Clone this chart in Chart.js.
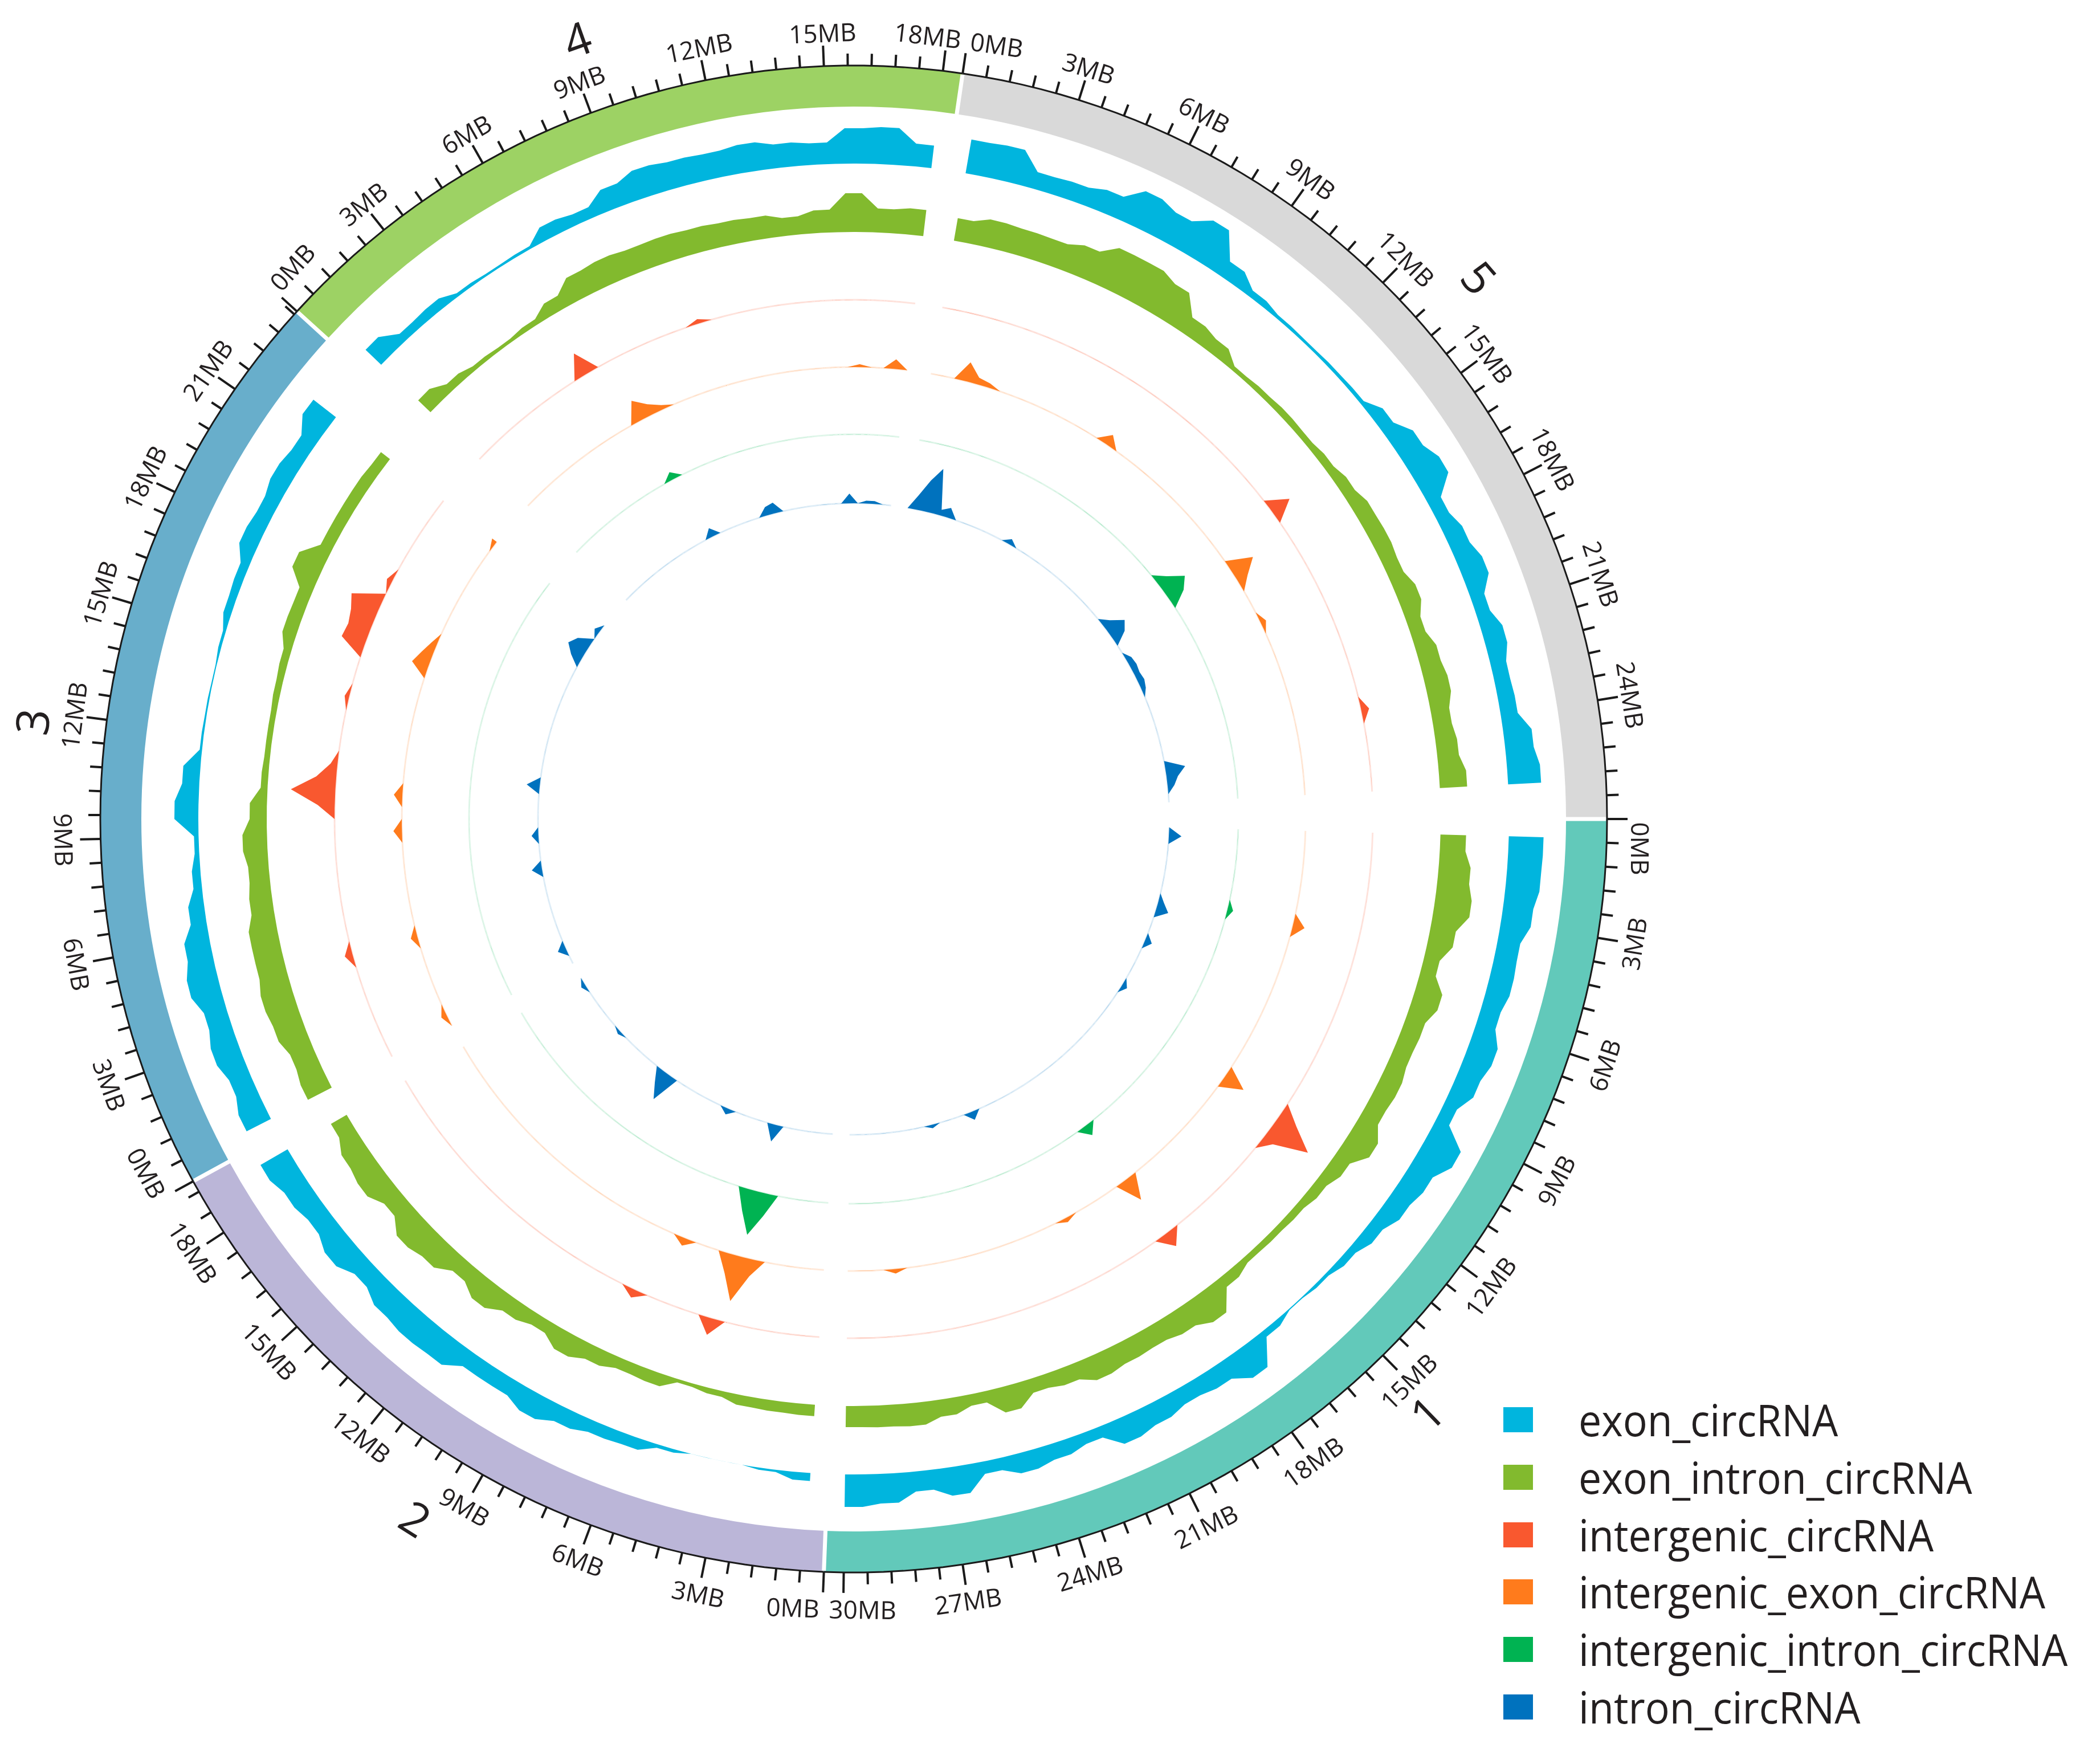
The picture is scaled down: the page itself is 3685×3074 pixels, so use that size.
<!DOCTYPE html>
<html lang="en">
<head>
<meta charset="UTF-8">
<title>circRNA distribution along chromosomes</title>
<style>
  body { margin: 0; background: #fff; font-family: 'Open Sans', sans-serif; }
  .wrap { position: relative; width: 3685px; height: 3074px; }
  #circos { position: absolute; left: 0; top: 0; }
  .legend { position: absolute; left: 2638px; top: 2441px; }
  .legend .item { position: absolute; left: 0; height: 100px; white-space: nowrap; }
  .legend .swatch { position: absolute; left: 0; top: 28px; width: 52px; height: 44px; }
  .legend .label { position: absolute; left: 132px; top: 0; line-height: 100px; font-size: 77px; color: #231f20;
                   transform: scaleX(0.93); transform-origin: left center; }
</style>
</head>
<body>
<div class="wrap">
  <canvas id="circos" width="3685" height="3074"></canvas>
  <div class="legend" id="legend"></div>
</div>
<script src="https://cdn.jsdelivr.net/npm/chart.js@4.4.1/dist/chart.umd.min.js"></script>
<script>
// chromosomes, sizes in MB
const chromNames = ['1', '2', '3', '4', '5'];
const chromSizes = [30.43, 19.70, 23.46, 18.59, 26.98];

// density per 1 MB window (one row per chromosome, window 0 = 0-1 MB)
const exonCircRNA = [
  [61, 60, 53, 40, 42, 35, 50, 42, 25, 65, 45, 38, 25, 14, 6, 2, 12, 55, 35, 30, 38, 45, 20, 28, 35, 22, 50, 35, 52, 57],
  [14, 4, 0, 0, 6, 20, 22, 30, 42, 30, 30, 50, 52, 48, 35, 50, 38, 45, 55],
  [48, 38, 48, 40, 54, 45, 28, 15, 8, 42, 30, 4, 3, 2, 5, 14, 16, 32, 28, 35, 30, 50],
  [38, 16, 18, 6, 4, 5, 25, 20, 40, 52, 48, 46, 50, 42, 38, 62, 65, 40],
  [60, 62, 30, 32, 40, 65, 55, 75, 30, 12, 6, 5, 6, 7, 25, 45, 58, 25, 35, 45, 25, 38, 28, 30, 50, 58]
];
const exonIntronCircRNA = [
  [45, 56, 64, 45, 28, 48, 35, 33, 38, 35, 52, 30, 20, 14, 12, 11, 20, 55, 42, 36, 38, 43, 30, 25, 45, 20, 30, 40, 38, 37],
  [20, 19, 18, 10, 6, 22, 20, 28, 38, 22, 30, 45, 30, 48, 55, 35, 50, 45, 32],
  [47, 42, 52, 56, 50, 50, 40, 36, 43, 30, 12, 10, 10, 12, 14, 25, 24, 50, 22, 22, 22, 20],
  [30, 15, 8, 6, 10, 25, 45, 48, 45, 46, 44, 42, 40, 32, 40, 68, 42, 46],
  [40, 49, 47, 46, 55, 75, 75, 65, 32, 25, 8, 10, 12, 11, 15, 22, 30, 31, 28, 38, 26, 37, 42, 33, 38, 48]
];

// sparse classes: [chromosome, position MB, density], zero elsewhere
const intergenicCircRNA = [
  [1, 11.5, 35], [1, 12.0, 78], [1, 12.5, 20], [1, 17.5, 28],
  [2, 4.5, 30], [2, 7.5, 15],
  [3, 4.5, 14], [3, 10.0, 30], [3, 10.5, 78], [3, 11.0, 35], [3, 11.5, 12], [3, 14.0, 8],
  [3, 16.0, 43], [3, 16.5, 40], [3, 17.0, 45], [3, 17.5, 55], [3, 18.5, 10],
  [4, 5.5, 42], [4, 10.0, 8],
  [5, 15.0, 38], [5, 23.0, 14]
];
const intergenicExonCircRNA = [
  [1, 4.5, 21], [1, 11.5, 40], [1, 17.5, 44], [1, 20.5, 8], [1, 28.0, 8],
  [2, 3.5, 30], [2, 4.0, 80], [2, 4.5, 35], [2, 6.5, 14],
  [3, 1.0, 10], [3, 4.5, 12], [3, 9.0, 15], [3, 10.5, 15], [3, 16.0, 30], [3, 16.5, 20], [3, 17.0, 10], [3, 22.0, 10],
  [4, 6.5, 38], [4, 7.0, 20], [4, 7.5, 8], [4, 16.0, 5], [4, 17.5, 17],
  [5, 2.0, 34], [5, 2.5, 12], [5, 3.0, 8], [5, 8.5, 20], [5, 16.0, 45], [5, 16.5, 20], [5, 18.5, 10]
];
const intergenicIntronCircRNA = [
  [1, 4.5, 10], [1, 17.5, 20],
  [2, 3.5, 40], [2, 4.0, 78], [2, 4.5, 40],
  [4, 6.5, 14],
  [5, 14.5, 20], [5, 15.0, 46], [5, 15.5, 30]
];
const intronCircRNA = [
  [1, 1.0, 22], [1, 5.0, 10], [1, 5.5, 22], [1, 7.5, 13], [1, 10.5, 10], [1, 22.5, 15], [1, 25.0, 6],
  [2, 4.0, 30], [2, 7.0, 11], [2, 11.0, 50], [2, 11.5, 25], [2, 15.0, 6], [2, 18.5, 8],
  [3, 1.5, 15], [3, 6.5, 18], [3, 8.5, 12], [3, 11.5, 23], [3, 19.5, 20], [3, 20.0, 35], [3, 20.5, 25], [3, 21.5, 10],
  [4, 7.0, 16], [4, 10.5, 15], [4, 11.0, 19], [4, 15.5, 17], [4, 16.5, 5], [4, 17.0, 5],
  [5, 1.0, 25], [5, 1.5, 55], [5, 2.0, 80], [5, 2.5, 10], [5, 3.0, 18], [5, 7.0, 10],
  [5, 14.5, 15], [5, 15.0, 36], [5, 15.5, 25], [5, 17.0, 10], [5, 17.5, 12], [5, 18.0, 10], [5, 18.5, 12], [5, 19.0, 8],
  [5, 24.0, 35], [5, 24.5, 20], [5, 25.0, 12]
];

// ---- layout (radial scale runs 0..1330 = pixels from centre) ----
const binMb = 0.5, windowMb = 1, tickMb = 0.6;
const ringInner = 1250, ringOuter = 1322;
const trackDepth = 80, densityMax = 80;
const chromColors = ['#62c9ba', '#bbb6d8', '#68aecb', '#9dd264', '#d9d9d9'];

const tracks = [
  { name: 'exon_circRNA', color: '#00b5de', base: 1150, windows: exonCircRNA },
  { name: 'exon_intron_circRNA', color: '#82ba2e', base: 1030, windows: exonIntronCircRNA },
  { name: 'intergenic_circRNA', color: '#f9582f', base: 911, peaks: intergenicCircRNA, axis: 'rgba(249,88,47,0.16)' },
  { name: 'intergenic_exon_circRNA', color: '#ff7b1c', base: 793, peaks: intergenicExonCircRNA, axis: 'rgba(255,123,28,0.16)' },
  { name: 'intergenic_intron_circRNA', color: '#00b352', base: 675, peaks: intergenicIntronCircRNA, axis: 'rgba(0,179,82,0.12)' },
  { name: 'intron_circRNA', color: '#0072be', base: 554, peaks: intronCircRNA, axis: 'rgba(0,114,190,0.12)' }
];

const gridBins = chromSizes.map(s => Math.round(s / binMb));
const offsets = gridBins.map((_, k) => gridBins.slice(0, k).reduce((a, b) => a + b, 0));
const nBins = gridBins.reduce((a, b) => a + b, 0);
const perWin = windowMb / binMb;
const windowsPerChrom = exonCircRNA.map(a => a.length);
const unit = trackDepth / densityMax;

const labels = [];
gridBins.forEach((n, k) => {
  for (let i = 0; i < n; i++) labels.push('chr' + chromNames[k] + ' ' + (i * binMb).toFixed(1) + 'MB');
});

function windowSeries(rows, base) {
  const out = new Array(nBins).fill(null);
  rows.forEach((vals, k) => {
    vals.forEach((v, w) => {
      for (let j = 1; j <= perWin; j++) out[offsets[k] + w * perWin + j] = base + v * unit;
    });
  });
  return out;
}

function peakSeries(peaks, base) {
  const out = new Array(nBins).fill(null);
  windowsPerChrom.forEach((n, k) => {
    for (let j = 1; j <= n * perWin; j++) out[offsets[k] + j] = base;
  });
  peaks.forEach(([chr, mb, v]) => {
    out[offsets[chr - 1] + Math.round(mb / binMb)] = base + v * unit;
  });
  return out;
}

function ringSeries(k) {
  const out = new Array(nBins).fill(null);
  for (let j = 0; j <= gridBins[k]; j++) out[(offsets[k] + j) % nBins] = ringOuter;
  return out;
}

const datasets = [];
tracks.forEach(t => {
  datasets.push({
    label: t.name,
    data: t.windows ? windowSeries(t.windows, t.base) : peakSeries(t.peaks, t.base),
    backgroundColor: t.color,
    borderWidth: 0,
    fill: { value: t.base },
    order: 0
  });
  if (t.axis) {
    datasets.push({
      label: t.name + ' axis',
      data: peakSeries([], t.base),
      borderColor: t.axis,
      borderWidth: 3,
      fill: false,
      order: 1
    });
  }
});
chromNames.forEach((c, k) => {
  datasets.push({
    label: 'chr' + c,
    data: ringSeries(k),
    backgroundColor: chromColors[k],
    borderColor: '#1a1a1a',
    borderWidth: 3,
    fill: { value: ringInner },
    order: 2
  });
});

function arcText(ctx, scale, idx, text, rIn, rOut, shift) {
  const a = scale.getPointPositionForValue(idx, rIn).angle;
  const lower = Math.sin(a) > 1e-6;
  const p = scale.getPointPositionForValue(idx, lower ? rOut : rIn);
  ctx.save();
  ctx.translate(p.x, p.y);
  ctx.rotate(lower ? a - Math.PI / 2 : a + Math.PI / 2);
  ctx.fillText(text, lower ? -shift : shift, 0);
  ctx.restore();
}

// ideogram decorations: separators, ticks, MB labels, chromosome names
const ideogram = {
  id: 'ideogram',
  afterDatasetsDraw(chart) {
    const scale = chart.scales.r;
    const ctx = chart.ctx;
    ctx.save();

    ctx.strokeStyle = '#ffffff';
    ctx.lineWidth = 7;
    offsets.forEach(off => {
      const a = scale.getPointPositionForValue(off, ringInner - 3);
      const b = scale.getPointPositionForValue(off, ringOuter - 2);
      ctx.beginPath(); ctx.moveTo(a.x, a.y); ctx.lineTo(b.x, b.y); ctx.stroke();
    });

    ctx.strokeStyle = '#1a1a1a';
    ctx.fillStyle = '#231f20';
    ctx.lineWidth = 4;
    ctx.font = '44px "Open Sans"';
    ctx.textAlign = 'center';
    ctx.textBaseline = 'alphabetic';
    chromSizes.forEach((size, k) => {
      for (let j = 0; j * tickMb <= size; j++) {
        const idx = offsets[k] + j * tickMb / binMb;
        const major = j % 5 === 0;
        const a = scale.getPointPositionForValue(idx, ringOuter);
        const b = scale.getPointPositionForValue(idx, ringOuter + (major ? 36 : 21));
        ctx.beginPath(); ctx.moveTo(a.x, a.y); ctx.lineTo(b.x, b.y); ctx.stroke();
        if (major) {
          const mb = Math.round(j * tickMb);
          let shift = 0;
          if (j === 0) shift = 52;
          else if (size - mb < 1) shift = -34;
          arcText(ctx, scale, idx, mb + 'MB', 1364, 1403, shift);
        }
      }
    });

    ctx.font = '80px "Open Sans"';
    chromNames.forEach((name, k) => {
      const idx = offsets[k] + chromSizes[k] / 2 / binMb;
      arcText(ctx, scale, idx, name, 1422, 1478, 0);
    });
    ctx.restore();
  }
};

new Chart(document.getElementById('circos'), {
  type: 'radar',
  data: { labels, datasets },
  options: {
    responsive: false,
    animation: false,
    devicePixelRatio: 1,
    layout: { padding: { left: 168, top: 107, right: 857, bottom: 307 } },
    elements: {
      point: { radius: 0, hitRadius: 0, hoverRadius: 0 },
      line: { tension: 0 }
    },
    plugins: { legend: { display: false }, tooltip: { enabled: false } },
    scales: {
      r: {
        min: 0,
        max: 1330,
        startAngle: 90,
        grid: { display: false, circular: true },
        angleLines: { display: false },
        pointLabels: { display: false },
        ticks: { display: false }
      }
    }
  },
  plugins: [ideogram]
});

// legend
const legend = document.getElementById('legend');
tracks.forEach((t, i) => {
  const item = document.createElement('div');
  item.className = 'item';
  item.style.top = (i * 100.8) + 'px';
  item.innerHTML = '<div class="swatch" style="background:' + t.color + '"></div><div class="label">' + t.name + '</div>';
  legend.appendChild(item);
});
</script>
</body>
</html>
